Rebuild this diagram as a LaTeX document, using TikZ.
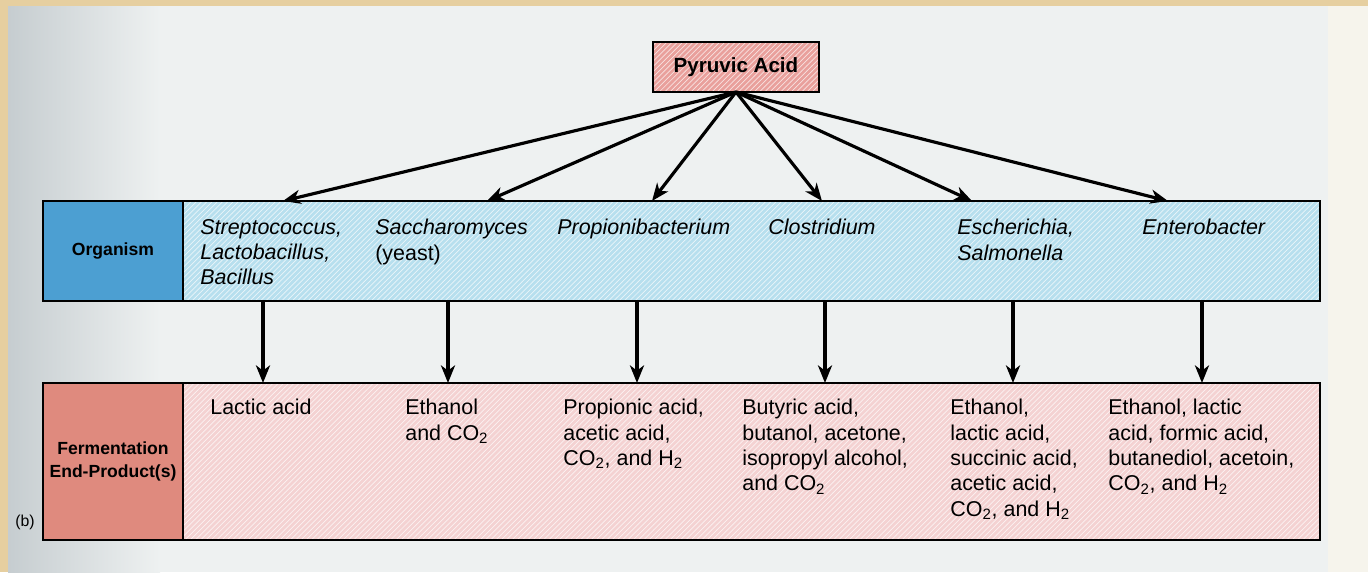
\documentclass[tikz,border=0pt]{standalone}
\usepackage{fontspec}
\setmainfont{Liberation Sans}
\usetikzlibrary{arrows.meta}
\usetikzlibrary{positioning}
\usetikzlibrary{patterns}
\definecolor{pagetan}{HTML}{E6CFA0}
\definecolor{pagegrey}{HTML}{EEF1F1}
\definecolor{pageshade}{HTML}{C6CDD0}
\definecolor{pagecream}{HTML}{F6F4EC}
\definecolor{pyrpink}{HTML}{E9A09C}
\definecolor{orgdark}{HTML}{4C9FD2}
\definecolor{orglight}{HTML}{B7DFEE}
\definecolor{proddark}{HTML}{DF8A7E}
\definecolor{prodlight}{HTML}{F4D2D2}
\tikzset{flow/.style={-{Stealth[length=10pt,width=8pt,inset=3pt]}, line width=1.8pt},
  cell/.style={draw, line width=1pt, inner sep=0pt, outer sep=0pt},
  stripes/.style={preaction={fill=#1}, preaction={pattern=north east lines, pattern color=white!70!#1}},
  labeltxt/.style={font=\bfseries\fontsize{10}{13}\selectfont, align=center},
  orgtxt/.style={anchor=north west, align=left, font=\itshape\fontsize{12.2}{14.4}\selectfont},
  prodtxt/.style={anchor=north west, align=left, font=\fontsize{12.2}{14.4}\selectfont}}
\begin{document}
\begin{tikzpicture}[scale=0.2]
\tikzstyle{every node}+=[inner sep=0pt]
% page
\useasboundingbox (0,0) rectangle (136.8,-57.2);
\fill [pagetan] (0,0) rectangle (136.8,-57.2);
\fill [pagegrey] (0.8,-0.6) rectangle (132.8,-57.2);
\fill [pagecream] (132.8,-0.6) rectangle (136.8,-57.2);
\shade [left color=pageshade, right color=pagegrey] (0.8,-0.6) rectangle (16,-57.2);
% boxes
\node [cell, stripes=pyrpink, minimum width=3.32cm, minimum height=1cm,
  font=\bfseries\fontsize{11.7}{14}\selectfont] (pyr) at (73.6,-6.7) {Pyruvic Acid};
\node [cell, fill=orgdark, minimum width=2.8cm, minimum height=2cm, labeltxt] (orglab) at (11.3,-25.1) {Organism};
\node [cell, stripes=orglight, minimum width=22.74cm, minimum height=2cm, right=0cm of orglab] (orgrow) {};
\node [cell, fill=proddark, minimum width=2.8cm, minimum height=3.14cm, labeltxt, below=1.64cm of orglab] (prodlab) {Fermentation\\End-Product(s)};
\node [cell, stripes=prodlight, minimum width=22.74cm, minimum height=3.14cm, right=0cm of prodlab] (prodrow) {};
\node [font=\fontsize{9}{11}\selectfont] (tag) at (2.5,-52.2) {(b)};
% organisms
\node [orgtxt] (o1) at (20.0,-21.9) {Streptococcus,\\Lactobacillus,\\Bacillus};
\node [orgtxt] (o2) at (37.5,-21.9) {Saccharomyces\\\upshape(yeast)};
\node [orgtxt] (o3) at (55.7,-21.9) {Propionibacterium};
\node [orgtxt] (o4) at (76.8,-21.9) {Clostridium};
\node [orgtxt] (o5) at (95.7,-21.9) {Escherichia,\\Salmonella};
\node [orgtxt] (o6) at (114.2,-21.9) {Enterobacter};
% end products
\node [prodtxt] (p1) at (21.0,-39.9) {Lactic acid};
\node [prodtxt] (p2) at (40.5,-39.9) {Ethanol\\and CO\textsubscript{2}};
\node [prodtxt] (p3) at (56.3,-39.9) {Propionic acid,\\acetic acid,\\CO\textsubscript{2}, and H\textsubscript{2}};
\node [prodtxt] (p4) at (74.2,-39.9) {Butyric acid,\\butanol, acetone,\\isopropyl alcohol,\\and CO\textsubscript{2}};
\node [prodtxt] (p5) at (95.0,-39.9) {Ethanol,\\lactic acid,\\succinic acid,\\acetic acid,\\CO\textsubscript{2}, and H\textsubscript{2}};
\node [prodtxt] (p6) at (110.8,-39.9) {Ethanol, lactic\\acid, formic acid,\\butanediol, acetoin,\\CO\textsubscript{2}, and H\textsubscript{2}};
% arrow ends on the organism row
\coordinate (t1) at (28.3,-20.1);
\coordinate (t2) at (48.7,-20.1);
\coordinate (t3) at (65.2,-20.1);
\coordinate (t4) at (82.2,-20.1);
\coordinate (t5) at (97.2,-20.1);
\coordinate (t6) at (116.8,-20.1);
\foreach \i in {1,...,6}
  \draw [flow] (pyr.south) -- (t\i);
% arrow starts under the organism row
\coordinate (d1) at (26.3,-30.1);
\coordinate (d2) at (44.8,-30.1);
\coordinate (d3) at (63.7,-30.1);
\coordinate (d4) at (82.5,-30.1);
\coordinate (d5) at (101.3,-30.1);
\coordinate (d6) at (120.2,-30.1);
\foreach \i in {1,...,6}
  \draw [flow] (d\i) -- (d\i |- prodrow.north);
\end{tikzpicture}
\end{document}
